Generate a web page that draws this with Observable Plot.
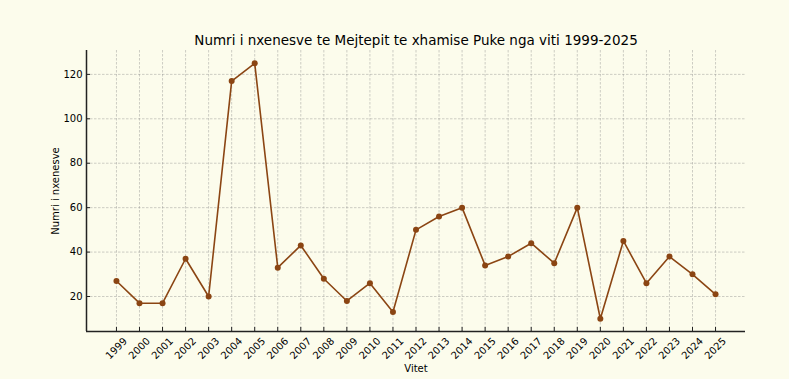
<!DOCTYPE html>
<html>
<head>
<meta charset="utf-8">
<script src="https://cdn.jsdelivr.net/npm/d3@7"></script>
<script src="https://cdn.jsdelivr.net/npm/@observablehq/plot@0.6"></script>
<style>
  html, body { margin: 0; padding: 0; background: #fcfcec; }
  #chart svg { display: block; }
</style>
</head>
<body>
<div id="chart"></div>
<script>
const years = [1999,2000,2001,2002,2003,2004,2005,2006,2007,2008,2009,2010,2011,2012,2013,2014,2015,2016,2017,2018,2019,2020,2021,2022,2023,2024,2025];
const students = [27,17,17,37,20,117,125,33,43,28,18,26,13,50,56,60,34,38,44,35,60,10,45,26,38,30,21];
const yTicks = [20,40,60,80,100,120];
const title = "Numri i nxenesve te Mejtepit te xhamise Puke nga viti 1999-2025";
const xLabel = "Vitet";
const yLabel = "Numri i nxenesve";

const data = years.map((y, i) => ({year: y, value: students[i]}));
const xDomain = [1997.7, 2026.3];
const yDomain = [4.25, 130.75];

const font = "'DejaVu Sans', sans-serif";
const dark = "#000";
const brown = "#8b4513";

const plot = Plot.plot({
  width: 789,
  height: 379,
  marginLeft: 86,
  marginRight: 44,
  marginTop: 50,
  marginBottom: 48,
  style: {background: "#fcfcec", fontFamily: font, fontSize: "10px", color: dark},
  x: {domain: xDomain, ticks: years},
  y: {domain: yDomain, ticks: yTicks},
  marks: [
    Plot.gridX(years, {stroke: "#888", strokeOpacity: 0.5, strokeDasharray: "2.5,1.5", strokeWidth: 0.8}),
    Plot.gridY(yTicks, {stroke: "#888", strokeOpacity: 0.5, strokeDasharray: "2.5,1.5", strokeWidth: 0.8}),
    Plot.axisY(yTicks, {tickSize: -4, tickPadding: 8, stroke: "#222", fill: dark, fontSize: 10, label: null}),
    Plot.axisX(years, {tickSize: -4, stroke: "#222", text: null, label: null}),
    Plot.text(years, {x: d => d, frameAnchor: "bottom", dy: 17, rotate: -45, textAnchor: "middle", lineAnchor: "middle", fill: dark, fontSize: 10, text: d => String(d)}),
    Plot.ruleX([xDomain[0]], {stroke: "#222", strokeWidth: 1.5}),
    Plot.ruleY([yDomain[0]], {stroke: "#222", strokeWidth: 1.5}),
    Plot.line(data, {x: "year", y: "value", stroke: brown, strokeWidth: 1.6}),
    Plot.dot(data, {x: "year", y: "value", r: 3, fill: brown, stroke: "none"}),
    Plot.text([title], {frameAnchor: "top", dy: -10, fontSize: 13.5, fill: dark, text: d => d, lineAnchor: "middle"}),
    Plot.text([xLabel], {frameAnchor: "bottom", dy: 37, fontSize: 10, fill: dark, text: d => d, lineAnchor: "middle"}),
    Plot.text([yLabel], {frameAnchor: "left", dx: -31, rotate: -90, fontSize: 10, fill: dark, text: d => d, lineAnchor: "middle", textAnchor: "middle"})
  ]
});
document.getElementById("chart").appendChild(plot);
</script>
</body>
</html>
